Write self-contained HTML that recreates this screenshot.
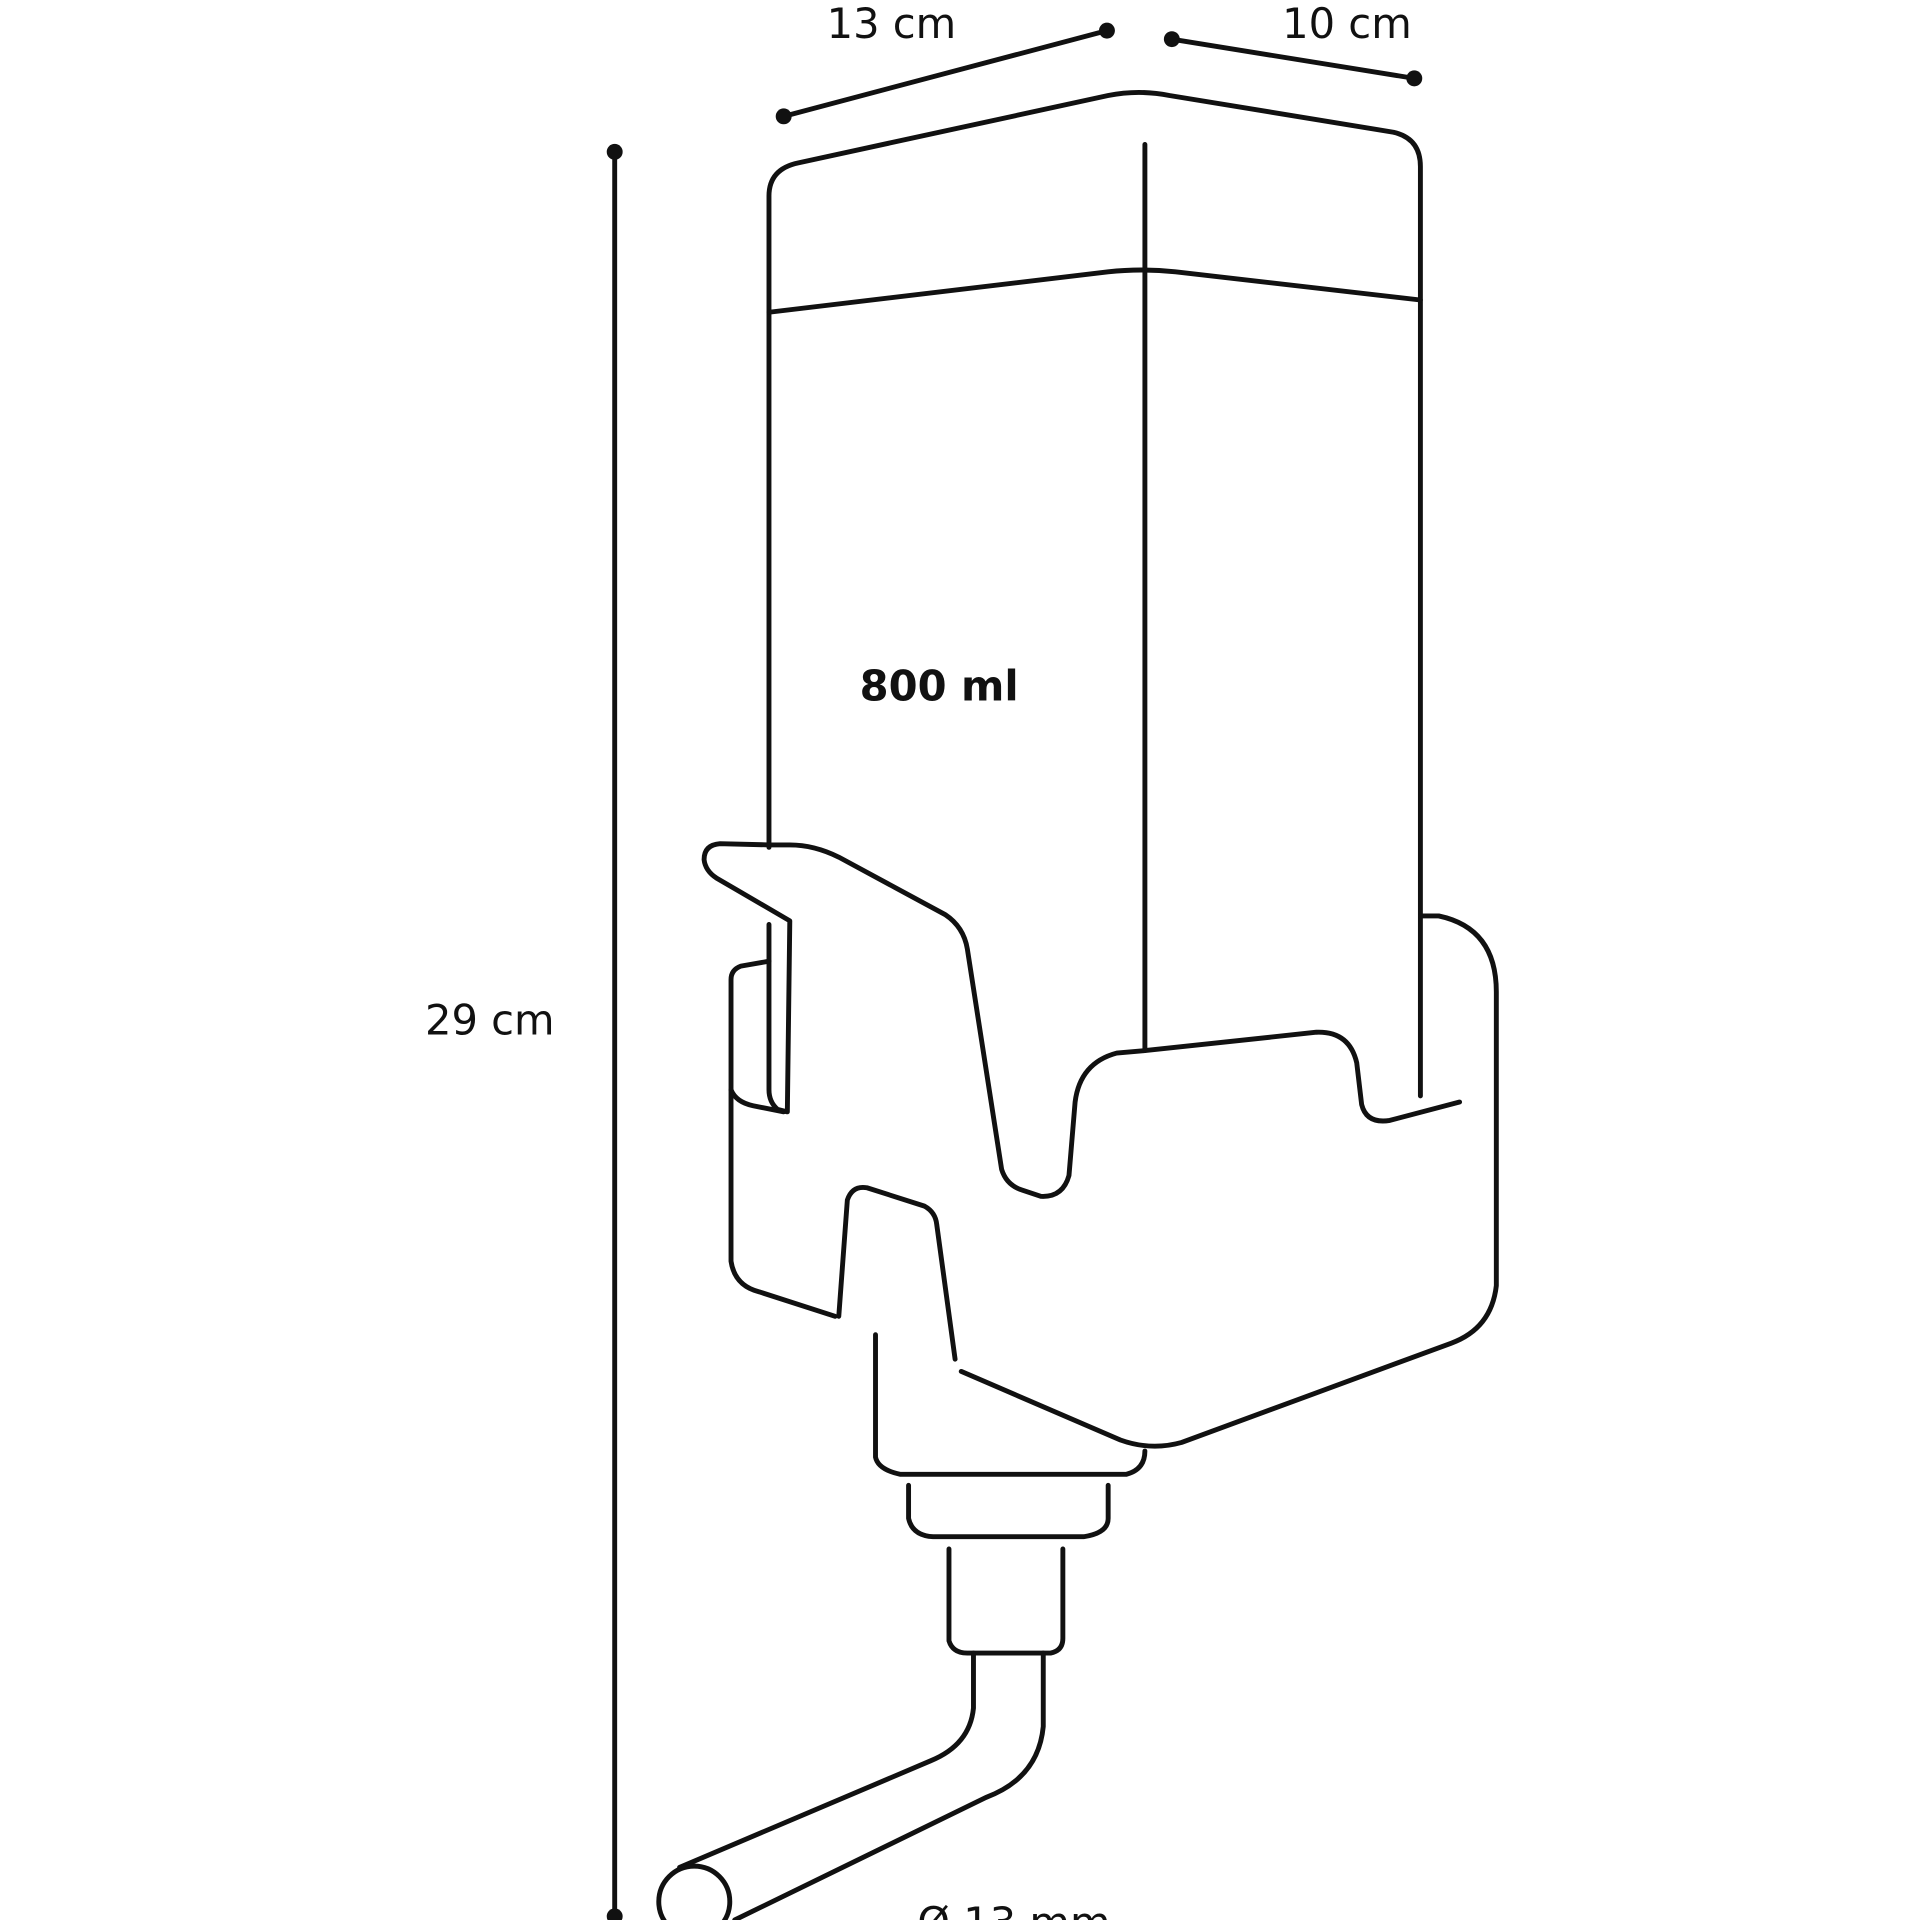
<!DOCTYPE html>
<html><head><style>
html,body{margin:0;padding:0;background:#fff;}
svg{display:block;}
text{font-family:"DejaVu Sans","Liberation Sans",sans-serif;fill:#111;}
</style></head><body>
<svg width="1920" height="1920" viewBox="0 0 1568 1568" xmlns="http://www.w3.org/2000/svg">
<g fill="none" stroke="#111" stroke-width="4" stroke-linejoin="round" stroke-linecap="round">
<line x1="640" y1="95" x2="904" y2="25"/>
<line x1="957" y1="32" x2="1155" y2="64"/>
<line x1="502" y1="124" x2="502" y2="1565"/>
<path d="M628,692 L628,160 Q628,138 652,133 L905,78 Q930,73 955,78 L1138,108 Q1160,113 1160,136 L1160,895"/>
<line x1="935" y1="118" x2="935" y2="858"/>
<path d="M628,255 L905,222 Q932,219 960,222 L1160,245"/>
<path d="M628,690 L645,690 Q665,690 685,700 L772,747 Q787,757 790,775 L818,955 Q822,968 835,972 L850,977 Q868,978 873,960 L878,900 Q882,868 912,860 L935,858 L1075,843 Q1102,842 1108,868 L1112,902 Q1116,918 1135,915 L1192,900"/>
<path d="M628,690 L588,689 Q575,690 575,702 Q576,711 585,717 L645,752 L643,908 L635,906 Q628,900 628,890 L628,755"/>
<path d="M628,785 L605,789 Q597,792 597,800 L597,890 Q601,900 615,903 L640,908"/>
<path d="M1160,748 L1175,748 Q1222,758 1222,810 L1222,1050 Q1218,1085 1185,1097 L965,1178 Q940,1185 915,1176 L785,1120"/>
<path d="M597,890 L597,1030 Q600,1050 620,1055 L682,1075"/>
<path d="M685,1075 L692,980 Q696,968 708,970 L755,985 Q764,990 765,1000 L780,1110"/>
<path d="M715,1090 L715,1190 Q717,1200 735,1204 L920,1204 Q935,1200 935,1185"/>
<path d="M742,1213 L742,1240 Q745,1254 762,1255 L885,1255 Q905,1252 905,1240 L905,1213"/>
<path d="M775,1265 L775,1340 Q778,1350 790,1350 L858,1350 Q868,1348 868,1338 L868,1265"/>
<path d="M795,1350 L795,1395 Q792,1425 760,1438 L555,1525"/>
<path d="M852,1350 L852,1410 Q848,1452 805,1468 L600,1568"/>
<circle cx="567" cy="1553" r="29"/>
</g>
<g fill="#111">
<circle cx="640" cy="95" r="6.5"/><circle cx="904" cy="25" r="6.5"/>
<circle cx="957" cy="32" r="6.5"/><circle cx="1155" cy="64" r="6.5"/>
<circle cx="502" cy="124" r="6.5"/><circle cx="502" cy="1565" r="6.5"/>
</g>
<text x="728" y="31" font-size="34" text-anchor="middle">13 cm</text>
<text x="1100" y="31" font-size="34" text-anchor="middle">10 cm</text>
<text x="400" y="845" font-size="34" text-anchor="middle">29 cm</text>
<text x="767" y="572" font-size="34" font-weight="bold" text-anchor="middle">800 ml</text>
<text x="828" y="1582" font-size="34" text-anchor="middle">Ø 13 mm</text>
</svg>
</body></html>
